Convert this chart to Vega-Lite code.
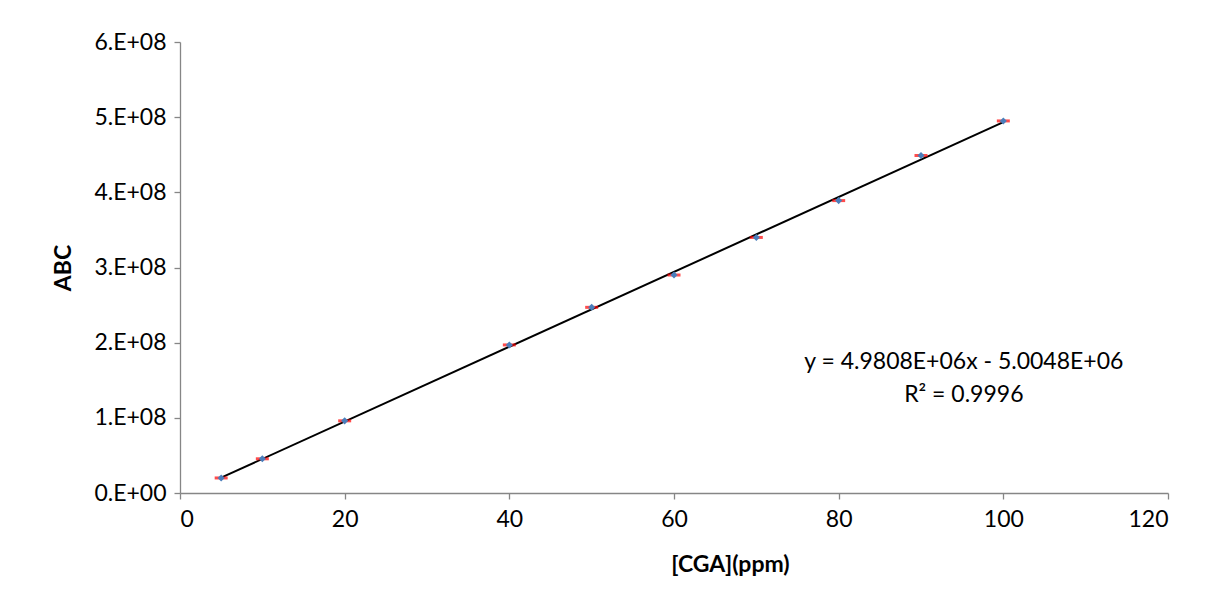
{
  "$schema": "https://vega.github.io/schema/vega-lite/v6.json",
  "width": 988,
  "height": 451,
  "autosize": {"type": "none"},
  "padding": {"left": 180, "top": 42, "right": 44, "bottom": 116},
  "background": "white",
  "config": {
    "view": {"stroke": null},
    "font": "Lato",
    "axis": {
      "grid": false,
      "domainColor": "#868686",
      "tickColor": "#868686",
      "domainWidth": 1.3,
      "tickWidth": 1.3,
      "tickSize": 6,
      "labelFont": "Lato",
      "labelFontSize": 23,
      "labelColor": "#000000",
      "titleFont": "Lato",
      "titleFontSize": 23,
      "titleFontWeight": "bold",
      "titleColor": "#000000"
    }
  },
  "datasets": {
    "pts": [
      {"ppm": 5, "abc": 20000000},
      {"ppm": 10, "abc": 45500000},
      {"ppm": 20, "abc": 96000000},
      {"ppm": 40, "abc": 197000000},
      {"ppm": 50, "abc": 247000000},
      {"ppm": 60, "abc": 290000000},
      {"ppm": 70, "abc": 340000000},
      {"ppm": 80, "abc": 389000000},
      {"ppm": 90, "abc": 449000000},
      {"ppm": 100, "abc": 495000000}
    ],
    "notes": [
      {"ppm": 95.2, "abc": 174000000, "label": "y = 4.9808E+06x - 5.0048E+06"},
      {"ppm": 95.2, "abc": 131000000, "label": "R² = 0.9996"}
    ]
  },
  "layer": [
    {
      "data": {"name": "pts"},
      "transform": [{"regression": "abc", "on": "ppm", "method": "linear"}],
      "mark": {"type": "line", "color": "#000000", "strokeWidth": 2},
      "encoding": {
        "x": {
          "field": "ppm", "type": "quantitative",
          "scale": {"domain": [0, 120], "nice": false},
          "axis": {"values": [0, 20, 40, 60, 80, 100, 120], "title": "[CGA](ppm)", "labelPadding": 9, "titlePadding": 22, "titleX": 550}
        },
        "y": {
          "field": "abc", "type": "quantitative",
          "scale": {"domain": [0, 600000000], "nice": false},
          "axis": {
            "values": [0, 100000000, 200000000, 300000000, 400000000, 500000000, 600000000],
            "labelExpr": "datum.value == 0 ? '0.E+00' : format(datum.value / 100000000, 'd') + '.E+08'",
            "title": "ABC", "labelPadding": 8, "titlePadding": 18
          }
        }
      }
    },
    {
      "data": {"name": "pts"},
      "mark": {"type": "tick", "orient": "horizontal", "color": "#FF0000", "size": 13, "thickness": 3},
      "encoding": {
        "x": {"field": "ppm", "type": "quantitative"},
        "y": {"field": "abc", "type": "quantitative"}
      }
    },
    {
      "data": {"name": "pts"},
      "mark": {"type": "point", "shape": "diamond", "filled": true, "color": "#4A7EBB", "size": 50, "opacity": 1},
      "encoding": {
        "x": {"field": "ppm", "type": "quantitative"},
        "y": {"field": "abc", "type": "quantitative"}
      }
    },
    {
      "data": {"name": "notes"},
      "mark": {"type": "text", "font": "Lato", "fontSize": 23, "color": "#000000", "align": "center", "baseline": "middle"},
      "encoding": {
        "x": {"field": "ppm", "type": "quantitative"},
        "y": {"field": "abc", "type": "quantitative"},
        "text": {"field": "label"}
      }
    }
  ]
}
